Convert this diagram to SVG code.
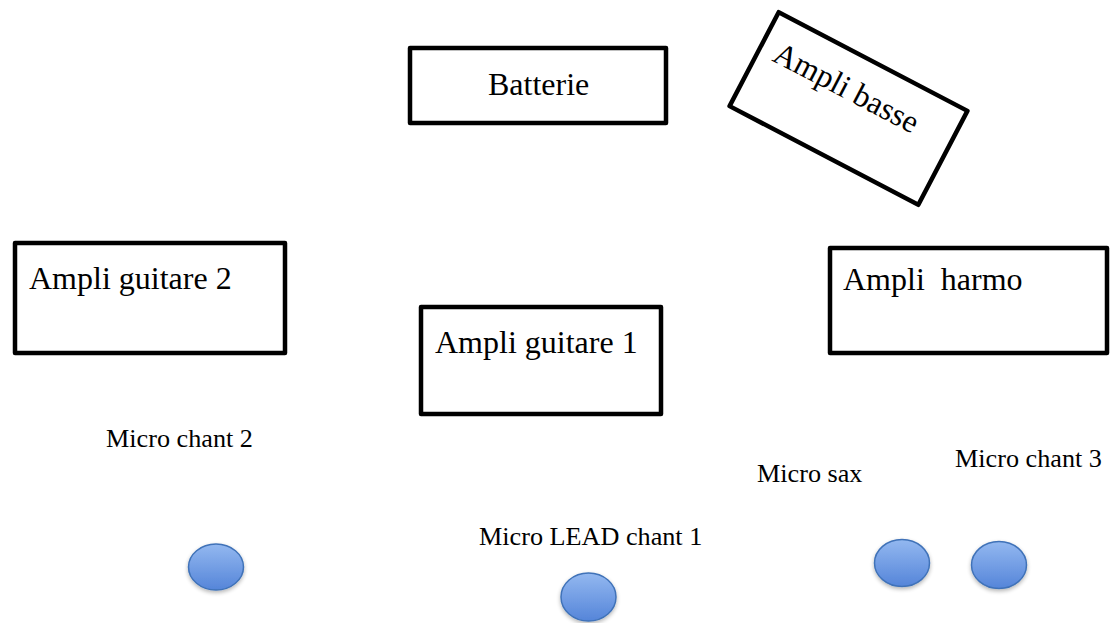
<svg xmlns="http://www.w3.org/2000/svg" width="1111" height="623" viewBox="0 0 1111 623">
<style>
.box{fill:#fff;stroke:#000;stroke-width:4.5;stroke-linejoin:round}
.big{font-family:"Liberation Serif",serif;font-size:32px;fill:#000}
.small{font-family:"Liberation Serif",serif;font-size:26.2px;fill:#000}
.mic{fill:url(#g);stroke:#3f72b8;stroke-width:1.5;filter:url(#sh)}
</style>
<defs>
<linearGradient id="g" x1="0" y1="0" x2="0" y2="1">
<stop offset="0" stop-color="#93b8f0"/>
<stop offset="1" stop-color="#5585d9"/>
</linearGradient>
<filter id="sh" x="-30%" y="-30%" width="160%" height="170%">
<feGaussianBlur in="SourceAlpha" stdDeviation="2"/>
<feOffset dy="2" result="b"/>
<feComponentTransfer><feFuncA type="linear" slope="0.3"/></feComponentTransfer>
<feMerge><feMergeNode/><feMergeNode in="SourceGraphic"/></feMerge>
</filter>
</defs>
<rect width="1111" height="623" fill="#fff"/>
<g id="batterie"><rect class="box" x="410" y="48" width="256" height="75"/><text class="big" x="488" y="95">Batterie</text></g>
<g id="ampli-basse" transform="translate(848.5,108.5) rotate(27.6)"><rect class="box" x="-106.5" y="-53" width="213" height="106"/><text class="big" x="-91" y="-7">Ampli basse</text></g>
<g id="ampli-guitare-2"><rect class="box" x="15" y="243" width="270" height="110"/><text class="big" x="29" y="289">Ampli guitare 2</text></g>
<g id="ampli-guitare-1"><rect class="box" x="421" y="307" width="240" height="107"/><text class="big" x="435" y="353">Ampli guitare 1</text></g>
<g id="ampli-harmo"><rect class="box" x="830" y="248" width="277" height="105"/><text class="big" x="843" y="290" xml:space="preserve">Ampli  harmo</text></g>
<g id="micro-chant-2"><text class="small" x="106" y="447">Micro chant 2</text><ellipse class="mic" cx="216" cy="567" rx="27.5" ry="23"/></g>
<g id="micro-lead"><text class="small" x="479" y="545">Micro LEAD chant 1</text><ellipse class="mic" cx="588.5" cy="597" rx="27.5" ry="24"/></g>
<g id="micro-sax"><text class="small" x="757" y="482">Micro sax</text><ellipse class="mic" cx="902" cy="563" rx="27.5" ry="23.5"/></g>
<g id="micro-chant-3"><text class="small" x="955" y="467">Micro chant 3</text><ellipse class="mic" cx="999" cy="565" rx="27.5" ry="23.5"/></g>
<g id="connectors"/>
</svg>
